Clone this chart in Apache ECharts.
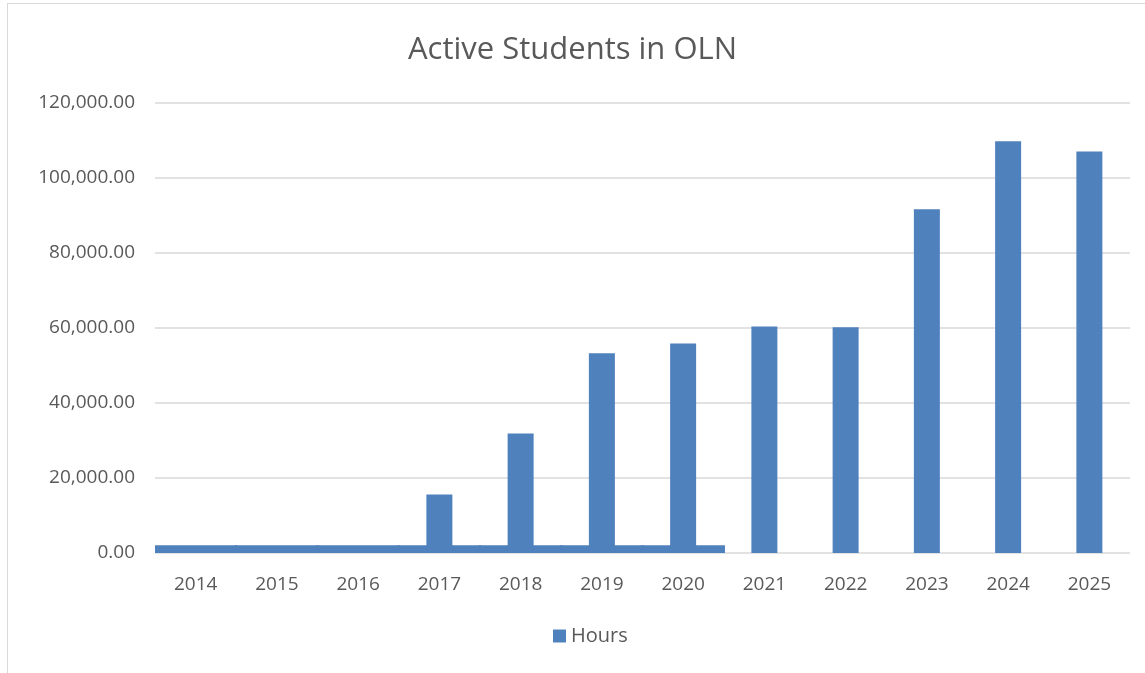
<!DOCTYPE html>
<html>
<head>
<meta charset="UTF-8" />
<title>Active Students in OLN</title>
<script src="https://cdn.jsdelivr.net/npm/echarts@6/dist/echarts.min.js"></script>
<style type="text/css">
body{
	margin: 0px;
	background-color: #fff;
}
#frame{
	position: absolute;
	left: 7px;
	top: 3px;
	right: -2px;
	bottom: -2px;
	border: 1px solid #d9d9d9;
}
#chart{
	position: absolute;
	left: 0px;
	top: 0px;
	width: 1145px;
	height: 673px;
}
</style>
</head>
<body>

<div id="frame"></div>
<div id="chart"></div>

<script type="text/javascript">

var years = ['2014', '2015', '2016', '2017', '2018', '2019', '2020', '2021', '2022', '2023', '2024', '2025'];
var hours = [0, 0, 0, 15600, 31900, 53300, 55900, 60400, 60200, 91700, 109800, 107100];
// thin strip along the bottom under 2014-2020 in the picture
var baseStrip = [2050, 2050, 2050, 2050, 2050, 2050, 2050, null, null, null, null, null];

var textColor = '#595959';
var barColor = '#4f81bd';

var myChart = echarts.init(document.getElementById('chart'));

myChart.setOption({
	animation: false,
	title: {
		text: 'Active Students in OLN',
		left: 'center',
		top: 30,
		textStyle: {
			fontFamily: 'Open Sans',
			fontSize: 31,
			fontWeight: 'normal',
			color: textColor
		}
	},
	legend: {
		data: ['Hours'],
		bottom: 22,
		left: 548,
		icon: 'rect',
		itemWidth: 13,
		itemHeight: 13,
		itemGap: 8,
		textStyle: {
			fontFamily: 'Open Sans',
			fontSize: 20,
			color: textColor
		}
	},
	grid: {
		left: 155,
		right: 15,
		top: 103,
		bottom: 120
	},
	xAxis: [{
		type: 'category',
		data: years,
		axisLine: { show: false },
		axisTick: { show: false },
		axisLabel: {
			margin: 22,
			fontFamily: 'Open Sans',
			fontSize: 19,
			color: textColor
		}
	}, {
		type: 'category',
		data: years,
		show: false
	}],
	yAxis: {
		type: 'value',
		min: 0,
		max: 120000,
		interval: 20000,
		axisLine: { show: false },
		axisTick: { show: false },
		axisLabel: {
			margin: 20,
			fontFamily: 'Open Sans',
			fontSize: 19,
			color: textColor,
			formatter: function(v){
				return v.toLocaleString('en-US', { minimumFractionDigits: 2, maximumFractionDigits: 2 });
			}
		},
		splitLine: {
			lineStyle: { color: '#d9d9d9', width: 1.5 }
		}
	},
	series: [{
		name: 'Hours',
		type: 'bar',
		data: hours,
		barWidth: 26,
		itemStyle: { color: barColor }
	}, {
		name: 'strip',
		type: 'bar',
		xAxisIndex: 1,
		data: baseStrip,
		barWidth: '103%',
		itemStyle: { color: barColor },
		z: 1
	}]
});

</script>

</body>
</html>
